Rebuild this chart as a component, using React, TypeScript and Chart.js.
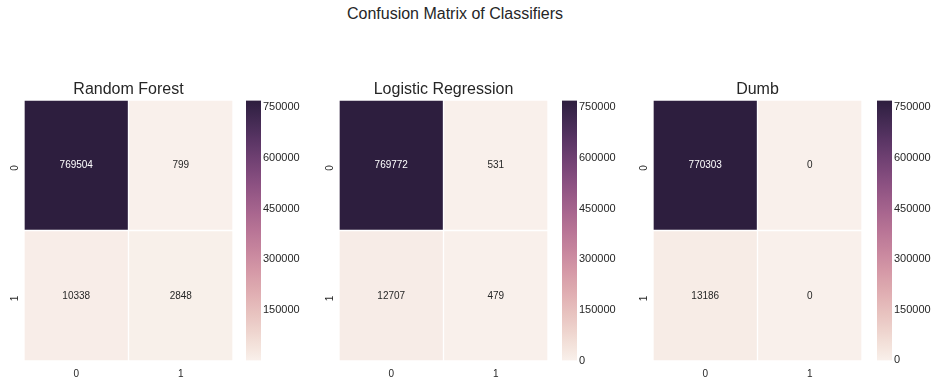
import React, { useEffect, useRef } from "react";
import { Chart, registerables } from "chart.js";

Chart.register(...registerables);

// ---------- data ----------
const mainTitle = "Confusion Matrix of Classifiers";
const classifierNames = ["Random Forest", "Logistic Regression", "Dumb"];
const classLabels = ["0", "1"];
const randomForest = [
  [769504, 799],
  [10338, 2848],
];
const logisticRegression = [
  [769772, 531],
  [12707, 479],
];
const dumb = [
  [770303, 0],
  [13186, 0],
];
const colorbarTicksRF = [150000, 300000, 450000, 600000, 750000];
const colorbarTicksLR = [0, 150000, 300000, 450000, 600000, 750000];
const colorbarTicksDumb = [0, 150000, 300000, 450000, 600000, 750000];

const matrices = [randomForest, logisticRegression, dumb];
const colorbarTicks = [colorbarTicksRF, colorbarTicksLR, colorbarTicksDumb];

// ---------- style / layout ----------
const FONT = "'Liberation Sans', Arial, sans-serif";
const TEXT = "#262626";
const heatLefts = [24, 339, 653];
const heatWidth = 209;
const cbLefts = [246, 562, 877];
const cbWidth = 15;
const areaTop = 100;
const areaBottom = 361;

// seaborn default sequential cmap: cubehelix_palette(light=.95, as_cmap=True)
function cubehelix(x: number): [number, number, number] {
  const gamma = 1, start = 0, rot = 0.4, hue = 0.8;
  const xg = Math.pow(x, gamma);
  const a = (hue * xg * (1 - xg)) / 2;
  const phi = 2 * Math.PI * (start / 3 + rot * x);
  const c = Math.cos(phi), s = Math.sin(phi);
  const cl = (v: number) => Math.min(1, Math.max(0, v));
  return [
    cl(xg + a * (-0.14861 * c + 1.78277 * s)),
    cl(xg + a * (-0.29227 * c - 0.90649 * s)),
    cl(xg + a * (1.97294 * c)),
  ];
}
function cmapRGB(t: number): [number, number, number] {
  const tt = Math.min(1, Math.max(0, t));
  return cubehelix(0.95 + (0.15 - 0.95) * tt);
}
function toCss(rgb: [number, number, number]) {
  return `rgb(${Math.round(rgb[0] * 255)},${Math.round(rgb[1] * 255)},${Math.round(rgb[2] * 255)})`;
}
function luminance(rgb: [number, number, number]) {
  const lin = rgb.map((c) => (c <= 0.03928 ? c / 12.92 : Math.pow((c + 0.055) / 1.055, 2.4)));
  return 0.2126 * lin[0] + 0.7152 * lin[1] + 0.0722 * lin[2];
}

const annotatePlugin = {
  id: "annotateCells",
  afterDatasetsDraw(chart: any) {
    const ctx = chart.ctx;
    ctx.save();
    ctx.font = `10px ${FONT}`;
    ctx.textAlign = "center";
    ctx.textBaseline = "middle";
    chart.data.datasets.forEach((ds: any, di: number) => {
      const meta = chart.getDatasetMeta(di);
      meta.data.forEach((el: any, i: number) => {
        const v = ds.values[i];
        const rgb = ds.rgb[i];
        const p = el.getProps(["x", "y", "base"], true);
        ctx.fillStyle = luminance(rgb) > 0.408 ? TEXT : "#ffffff";
        ctx.fillText(String(v), p.x, (p.y + p.base) / 2);
      });
    });
    ctx.restore();
  },
};

function Heatmap({ matrix, title, left }: { matrix: number[][]; title: string; left: number }) {
  const ref = useRef<HTMLCanvasElement>(null);
  useEffect(() => {
    const flat = matrix.flat();
    const vmin = Math.min(...flat);
    const vmax = Math.max(...flat);
    const chart = new Chart(ref.current as HTMLCanvasElement, {
      type: "bar",
      data: {
        labels: classLabels,
        datasets: matrix.map((row, r) => {
          const rgb = row.map((v) => cmapRGB((v - vmin) / (vmax - vmin)));
          return {
            data: row.map(() => [r, r + 1]),
            values: row,
            rgb,
            backgroundColor: rgb.map(toCss),
            borderColor: "#ffffff",
            borderWidth: 1,
            borderSkipped: false,
            grouped: false,
            barPercentage: 1,
            categoryPercentage: 1,
          } as any;
        }),
      },
      options: {
        animation: false,
        responsive: false,
        maintainAspectRatio: false,
        layout: { padding: 0 },
        plugins: {
          legend: { display: false },
          tooltip: { enabled: false },
          title: {
            display: true,
            text: title,
            fullSize: false,
            color: TEXT,
            font: { family: FONT, size: 16, weight: "normal", lineHeight: 1.2 },
            padding: { top: 10, bottom: 0.8 },
          },
        },
        scales: {
          x: {
            grid: { display: false, drawTicks: false },
            border: { display: false },
            ticks: { color: TEXT, font: { family: FONT, size: 10 }, padding: 7 },
            afterFit: (s: any) => {
              s.height = 24;
            },
          },
          y: {
            type: "linear",
            min: 0,
            max: 2,
            reverse: true,
            grid: { display: false, drawTicks: false },
            border: { display: false },
            afterBuildTicks: (s: any) => {
              s.ticks = classLabels.map((_, i) => ({ value: i + 0.5 }));
            },
            ticks: {
              color: TEXT,
              font: { family: FONT, size: 10 },
              minRotation: 90,
              maxRotation: 90,
              padding: 9,
              callback: (v: any) => classLabels[Math.floor(Number(v))],
            },
            afterFit: (s: any) => {
              s.width = 24;
            },
          },
        },
      } as any,
      plugins: [annotatePlugin],
    });
    return () => chart.destroy();
  }, [matrix, title]);
  const canvasLeft = left - 24;
  return (
    <canvas
      ref={ref}
      width={24 + heatWidth}
      height={385 - 70}
      style={{ position: "absolute", left: canvasLeft, top: 70, width: 24 + heatWidth, height: 385 - 70 }}
    />
  );
}

function Colorbar({ matrix, ticks, left }: { matrix: number[][]; ticks: number[]; left: number }) {
  const ref = useRef<HTMLCanvasElement>(null);
  useEffect(() => {
    const flat = matrix.flat();
    const vmin = Math.min(...flat);
    const vmax = Math.max(...flat);
    const chart = new Chart(ref.current as HTMLCanvasElement, {
      type: "bar",
      data: {
        labels: ["cb"],
        datasets: [
          {
            data: [[vmin, vmax]],
            barPercentage: 1,
            categoryPercentage: 1,
            borderWidth: 0,
            backgroundColor: (c: any) => {
              const ch = c.chart;
              const ys = ch.scales.y;
              if (!ch.chartArea || !ys) return toCss(cmapRGB(0.5));
              const y0 = ys.getPixelForValue(vmin);
              const y1 = ys.getPixelForValue(vmax);
              const g = ch.ctx.createLinearGradient(0, y0, 0, y1);
              const n = 48;
              for (let i = 0; i <= n; i++) g.addColorStop(i / n, toCss(cmapRGB(i / n)));
              return g;
            },
          } as any,
        ],
      },
      options: {
        animation: false,
        responsive: false,
        maintainAspectRatio: false,
        layout: { padding: { top: 8, bottom: 8, left: 0, right: 0 } },
        plugins: { legend: { display: false }, tooltip: { enabled: false }, title: { display: false } },
        scales: {
          x: { display: false },
          y: {
            type: "linear",
            position: "right",
            min: vmin,
            max: vmax,
            grid: { display: false, drawTicks: false },
            border: { display: false },
            afterBuildTicks: (s: any) => {
              s.ticks = ticks.map((v) => ({ value: v }));
            },
            ticks: {
              color: TEXT,
              font: { family: FONT, size: 11 },
              padding: 2,
              callback: (v: any) => String(v),
            },
            afterFit: (s: any) => {
              s.width = 50;
            },
          },
        },
      } as any,
    });
    return () => chart.destroy();
  }, [matrix, ticks]);
  const h = areaBottom - areaTop + 16;
  return (
    <canvas
      ref={ref}
      width={cbWidth + 50}
      height={h}
      style={{ position: "absolute", left, top: areaTop - 8, width: cbWidth + 50, height: h }}
    />
  );
}

export default function App() {
  return (
    <div
      style={{
        position: "fixed",
        left: 0,
        top: 0,
        width: 936,
        height: 385,
        background: "#ffffff",
        overflow: "hidden",
      }}
    >
      <div
        style={{
          position: "absolute",
          left: 0,
          top: 4,
          width: 910,
          textAlign: "center",
          fontFamily: FONT,
          fontSize: 16,
          lineHeight: "20px",
          color: TEXT,
        }}
      >
        {mainTitle}
      </div>
      {matrices.map((m, i) => (
        <React.Fragment key={i}>
          <Heatmap matrix={m} title={classifierNames[i]} left={heatLefts[i]} />
          <Colorbar matrix={m} ticks={colorbarTicks[i]} left={cbLefts[i]} />
        </React.Fragment>
      ))}
    </div>
  );
}
